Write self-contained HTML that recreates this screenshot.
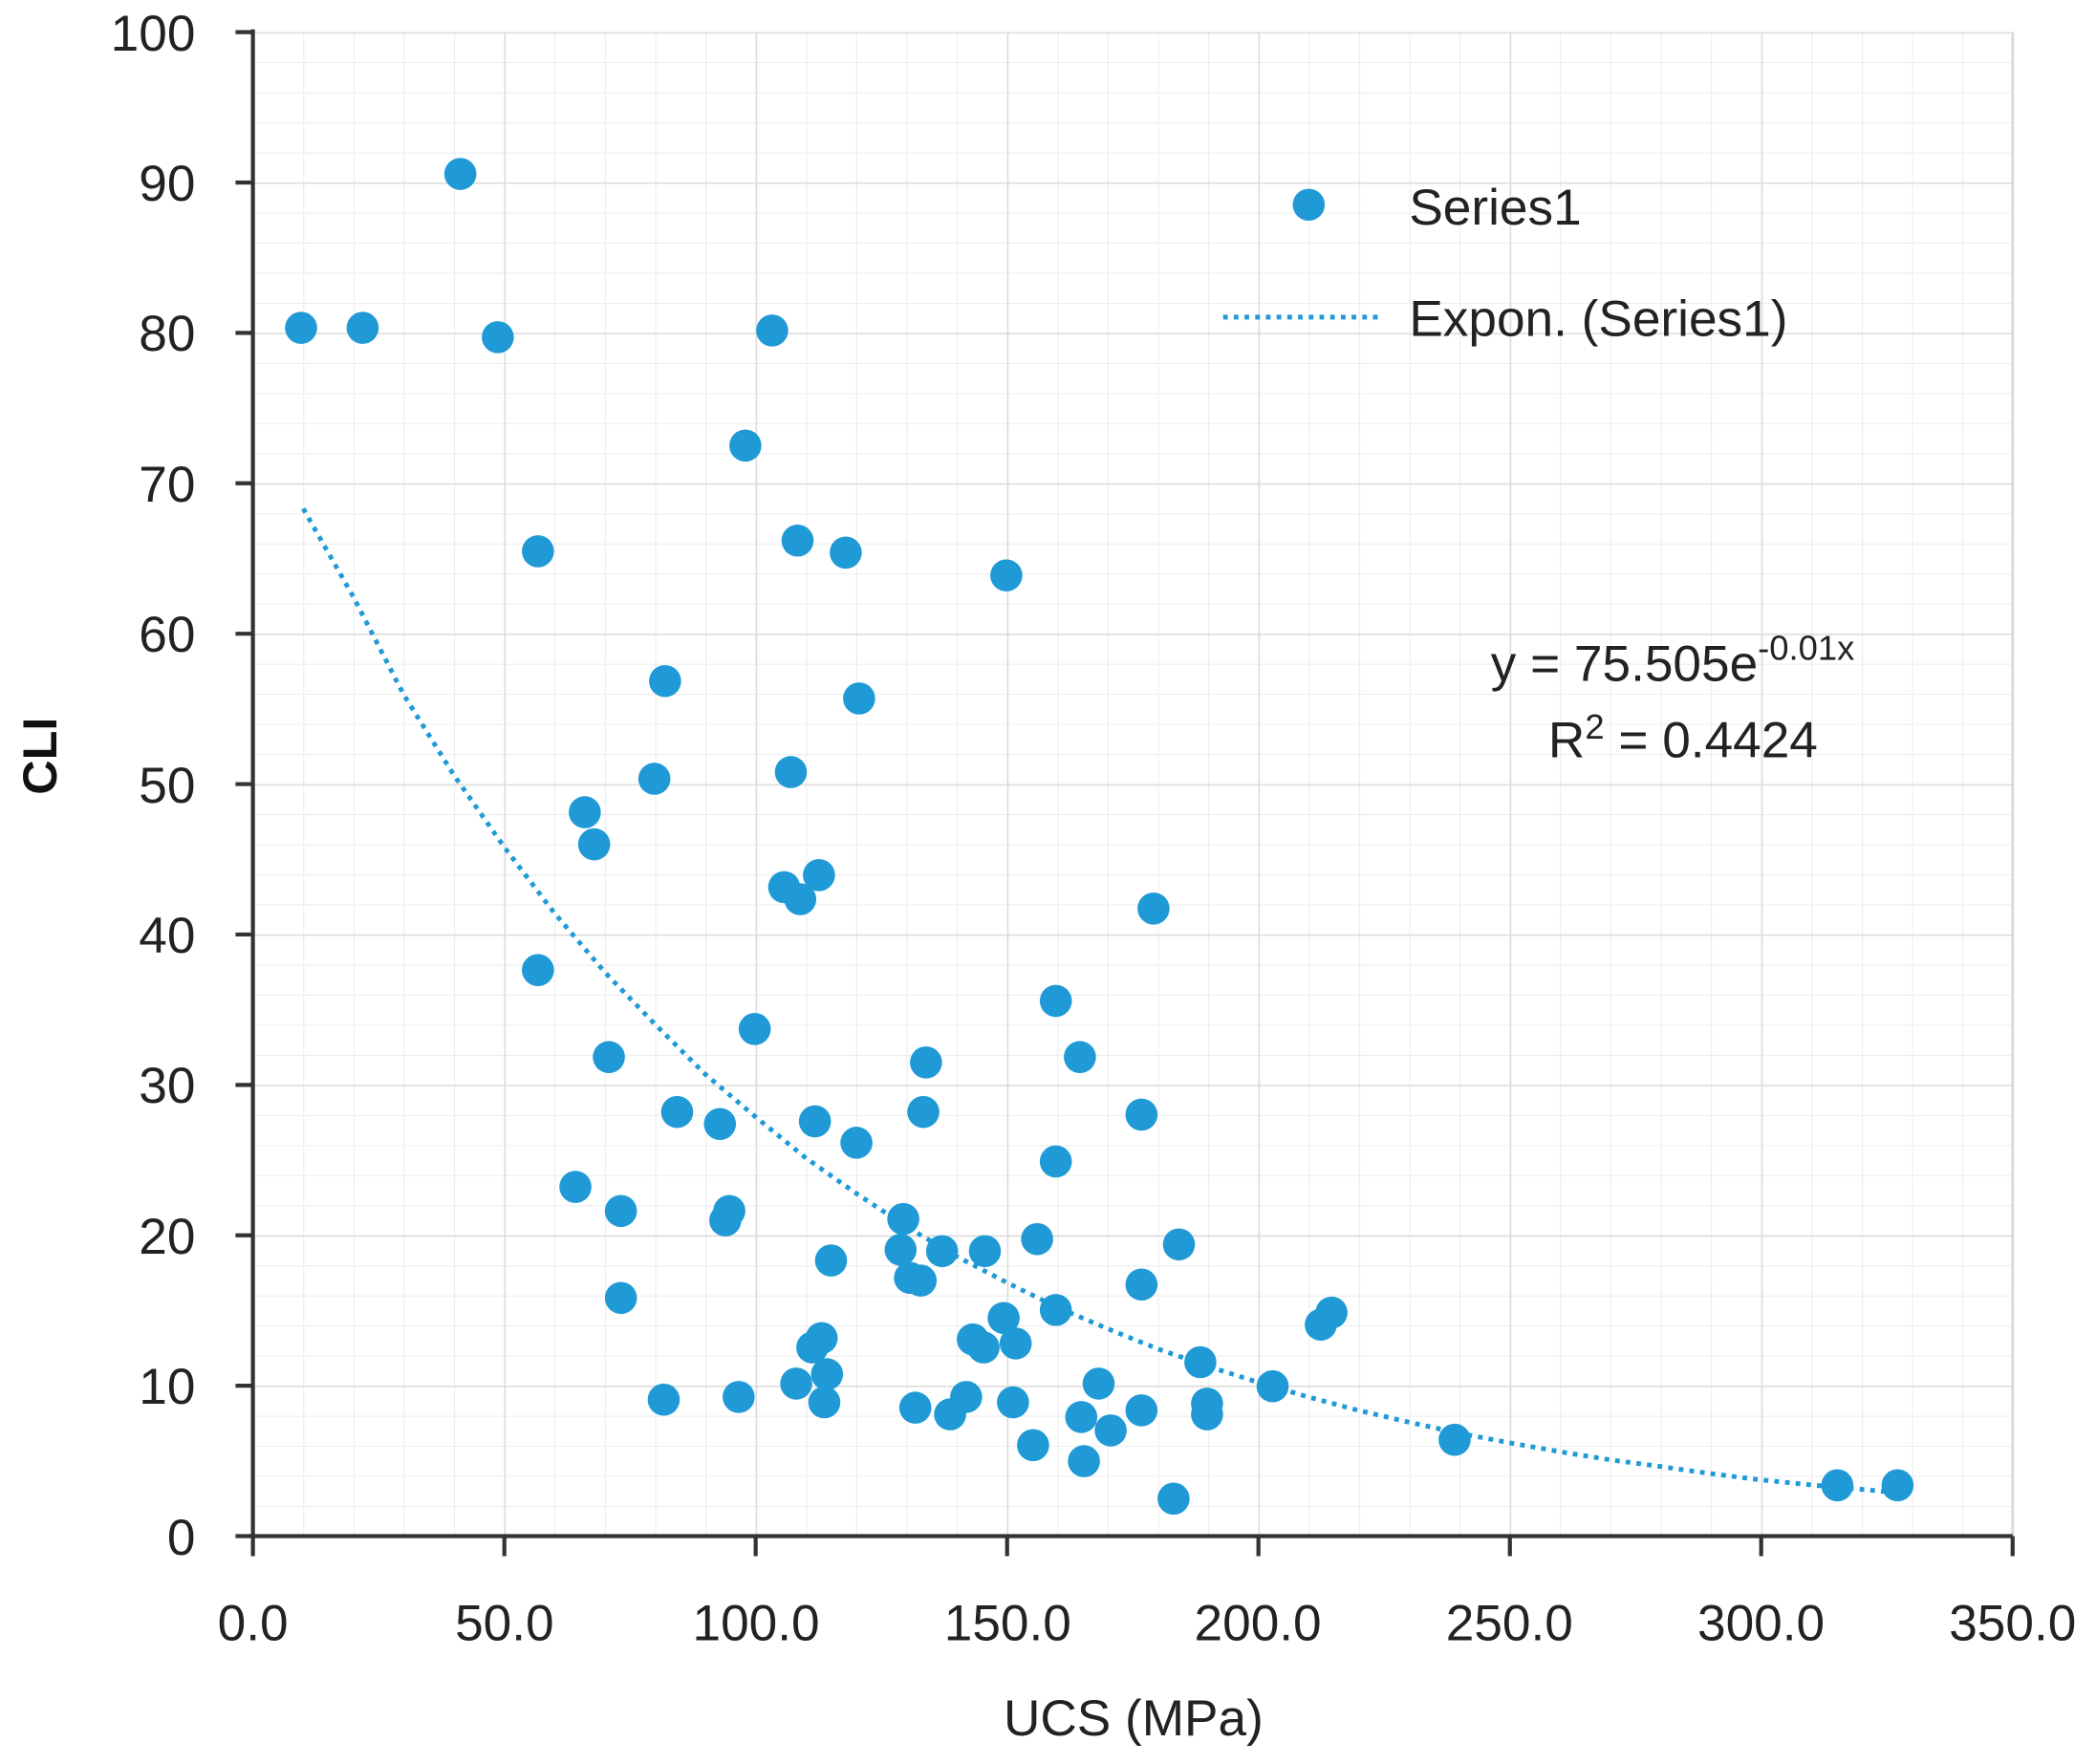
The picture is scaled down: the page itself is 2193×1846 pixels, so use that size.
<!DOCTYPE html>
<html><head><style>html,body{margin:0;padding:0;background:#fff}svg{display:block}</style></head>
<body>
<svg width="2193" height="1846" viewBox="0 0 1566.3 1318.3" preserveAspectRatio="none" xmlns="http://www.w3.org/2000/svg" font-family="'Liberation Sans', sans-serif">
<defs>
<pattern id="mn" patternUnits="userSpaceOnUse" x="189" y="24" width="37.571" height="22.48">
<path d="M0 0V22.48M0 0H37.571" stroke="#ececec" stroke-width="1.5" fill="none"/>
</pattern>
<pattern id="mj" patternUnits="userSpaceOnUse" x="189" y="24" width="187.857" height="112.4">
<path d="M0 0V112.4M0 0H187.857" stroke="#d9d9d9" stroke-width="2" fill="none"/>
</pattern>
</defs>
<rect x="189" y="24" width="1315" height="1124" fill="url(#mn)"/>
<rect x="189" y="24" width="1315" height="1124" fill="url(#mj)"/>
<path d="M1504 24V1148" stroke="#d9d9d9" stroke-width="2"/>
<g stroke="#333" stroke-width="3" fill="none">
<path d="M189 22V1148H1504"/>
<path d="M176 24H189M176 136.4H189M176 248.8H189M176 361.2H189M176 473.6H189M176 586H189M176 698.4H189M176 810.8H189M176 923.2H189M176 1035.6H189M176 1148H189"/>
<path d="M189 1148V1163M376.9 1148V1163M564.7 1148V1163M752.6 1148V1163M940.4 1148V1163M1128.3 1148V1163M1316.1 1148V1163M1504 1148V1163"/>
</g>
<g font-size="38" fill="#222" text-anchor="end">
<text x="146" y="38">100</text><text x="146" y="150">90</text><text x="146" y="262">80</text>
<text x="146" y="375">70</text><text x="146" y="487">60</text><text x="146" y="600">50</text>
<text x="146" y="712">40</text><text x="146" y="824">30</text><text x="146" y="937">20</text>
<text x="146" y="1049">10</text><text x="146" y="1162">0</text>
</g>
<g font-size="38" fill="#222" text-anchor="middle">
<text x="189" y="1226">0.0</text><text x="377" y="1226">50.0</text><text x="565" y="1226">100.0</text>
<text x="753" y="1226">150.0</text><text x="940" y="1226">200.0</text><text x="1128" y="1226">250.0</text>
<text x="1316" y="1226">300.0</text><text x="1504" y="1226">350.0</text>
<text x="847" y="1297">UCS (MPa)</text>
</g>
<text x="0" y="0" transform="translate(42,565) rotate(-90)" text-anchor="middle" font-size="36" font-weight="bold" fill="#111">CLI</text>
<polyline points="226.6,380.1 264,446 301.7,519.2 339,579 376.9,633.2 414,682 452,726.6 490,766 527.1,802.9 565,835 602.3,865.5 640,892 677.4,916.7 715,939 752.6,958.6 790,977 827.7,993 865,1008 902.8,1021.1 940,1033 978,1044.1 1015,1054 1053.1,1062.9 1090,1071 1128.3,1078.3 1166,1085 1203.4,1091 1241,1096 1278.5,1101.3 1316,1106 1353.7,1109.8 1391,1113 1428.8,1116.7" fill="none" stroke="#1f9ad6" stroke-width="3.5" stroke-dasharray="3.5 4.5"/>
<g fill="#1f9ad6">
<circle cx="225" cy="245" r="12"/><circle cx="271" cy="245" r="12"/><circle cx="344" cy="130" r="12"/><circle cx="372" cy="252" r="12"/><circle cx="577" cy="247" r="12"/><circle cx="557" cy="333" r="12"/><circle cx="402" cy="412" r="12"/><circle cx="596" cy="404" r="12"/><circle cx="632" cy="413" r="12"/><circle cx="752" cy="430" r="12"/><circle cx="497" cy="509" r="12"/><circle cx="642" cy="522" r="12"/><circle cx="489" cy="582" r="12"/><circle cx="591" cy="577" r="12"/><circle cx="437" cy="607" r="12"/><circle cx="444" cy="631" r="12"/><circle cx="586" cy="663" r="12"/><circle cx="612" cy="654" r="12"/><circle cx="598" cy="672" r="12"/><circle cx="862" cy="679" r="12"/><circle cx="402" cy="725" r="12"/><circle cx="564" cy="769" r="12"/><circle cx="789" cy="748" r="12"/><circle cx="455" cy="790" r="12"/><circle cx="692" cy="794" r="12"/><circle cx="807" cy="790" r="12"/><circle cx="506" cy="831" r="12"/><circle cx="538" cy="840" r="12"/><circle cx="690" cy="831" r="12"/><circle cx="609" cy="838" r="12"/><circle cx="853" cy="833" r="12"/><circle cx="640" cy="854" r="12"/><circle cx="789" cy="868" r="12"/><circle cx="430" cy="887" r="12"/><circle cx="464" cy="905" r="12"/><circle cx="545" cy="905" r="12"/><circle cx="542" cy="912" r="12"/><circle cx="675" cy="911" r="12"/><circle cx="673" cy="934" r="12"/><circle cx="704" cy="935" r="12"/><circle cx="736" cy="935" r="12"/><circle cx="775" cy="926" r="12"/><circle cx="881" cy="930" r="12"/><circle cx="621" cy="942" r="12"/><circle cx="680" cy="955" r="12"/><circle cx="688" cy="957" r="12"/><circle cx="853" cy="960" r="12"/><circle cx="464" cy="970" r="12"/><circle cx="789" cy="979" r="12"/><circle cx="750" cy="985" r="12"/><circle cx="995" cy="981" r="12"/><circle cx="987" cy="990" r="12"/><circle cx="727" cy="1001" r="12"/><circle cx="735" cy="1007" r="12"/><circle cx="759" cy="1004" r="12"/><circle cx="614" cy="1000" r="12"/><circle cx="607" cy="1007" r="12"/><circle cx="618" cy="1027" r="12"/><circle cx="595" cy="1034" r="12"/><circle cx="897" cy="1018" r="12"/><circle cx="821" cy="1034" r="12"/><circle cx="951" cy="1036" r="12"/><circle cx="496" cy="1046" r="12"/><circle cx="552" cy="1044" r="12"/><circle cx="616" cy="1048" r="12"/><circle cx="684" cy="1052" r="12"/><circle cx="722" cy="1044" r="12"/><circle cx="757" cy="1048" r="12"/><circle cx="710" cy="1057" r="12"/><circle cx="902" cy="1049" r="12"/><circle cx="902" cy="1057" r="12"/><circle cx="808" cy="1059" r="12"/><circle cx="853" cy="1054" r="12"/><circle cx="830" cy="1069" r="12"/><circle cx="772" cy="1080" r="12"/><circle cx="1087" cy="1076" r="12"/><circle cx="810" cy="1092" r="12"/><circle cx="877" cy="1120" r="12"/><circle cx="1373" cy="1110" r="12"/><circle cx="1418" cy="1110" r="12"/>
</g>
<circle cx="978" cy="153" r="12" fill="#1f9ad6"/>
<path d="M914 237H1032" stroke="#1f9ad6" stroke-width="3.5" stroke-dasharray="3.5 4.5"/>
<g font-size="38" fill="#222">
<text x="1053" y="168">Series1</text>
<text x="1053" y="251">Expon. (Series1)</text>
<text x="1114" y="509">y = 75.505e<tspan font-size="26" dy="-16">-0.01x</tspan></text>
<text x="1157" y="566">R<tspan font-size="26" dy="-14">2</tspan><tspan dy="14"> = 0.4424</tspan></text>
</g>
</svg>
</body></html>
